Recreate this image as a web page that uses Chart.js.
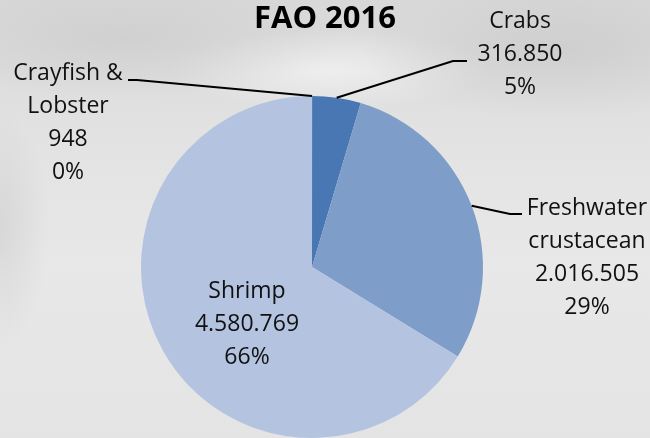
<!DOCTYPE html>
<html>
<head>
<meta charset="utf-8">
<script src="https://cdn.jsdelivr.net/npm/chart.js@4/dist/chart.umd.min.js"></script>
<style>
  html, body { margin: 0; padding: 0; }
  body {
    width: 650px; height: 438px; overflow: hidden;
    background:
      radial-gradient(ellipse 220px 60px at 120px 40px, rgba(195,195,195,0.45), rgba(195,195,195,0) 100%),
      radial-gradient(ellipse 200px 70px at 560px 50px, rgba(190,190,190,0.45), rgba(190,190,190,0) 100%),
      radial-gradient(ellipse 50px 120px at 0px 230px, rgba(180,180,180,0.3), rgba(180,180,180,0) 100%),
      radial-gradient(ellipse 160px 40px at 330px 70px, rgba(245,245,245,0.7), rgba(245,245,245,0) 100%),
      linear-gradient(180deg, #d8d8d8 0%, #e2e2e2 30%, #e8e8e8 60%, #e4e4e4 100%);
  }
  #wrap { position: relative; width: 650px; height: 438px; }
</style>
</head>
<body>
<div id="wrap"><canvas id="pie"></canvas></div>
<script>
  let categories = ['Crayfish & Lobster', 'Crabs', 'Freshwater crustacean', 'Shrimp'];
  let production = [948, 316850, 2016505, 4580769];
  let labelLines = [['Crayfish &', 'Lobster'], ['Crabs'], ['Freshwater', 'crustacean'], ['Shrimp']];
  let colors = ['#2f5a94', '#4877b3', '#7f9dc9', '#b4c4e0'];

  // where each label block sits (center x, first baseline) and its leader elbow
  let labelPos = [
    { x: 68, y: 80, elbow: [[137, 80], [128, 80]] },
    { x: 520, y: 28, elbow: [[453, 61], [467, 61]] },
    { x: 587, y: 215, elbow: [[510, 214], [522, 214]] },
    { x: 247, y: 298, elbow: null }
  ];

  function fmt(n) {
    return String(n).replace(/\B(?=(\d{3})+(?!\d))/g, '.');
  }

  let total = production.reduce((a, b) => a + b, 0);

  let labelPlugin = {
    id: 'pieLabels',
    afterDraw(chart) {
      let ctx = chart.ctx;
      let arcs = chart.getDatasetMeta(0).data;
      ctx.save();

      ctx.fillStyle = '#000';
      ctx.font = 'bold 31px "Open Sans"';
      ctx.textAlign = 'center';
      ctx.textBaseline = 'alphabetic';
      ctx.fillText('FAO 2016', 325, 28);

      ctx.font = '23px "Open Sans"';
      ctx.fillStyle = '#111';
      ctx.strokeStyle = '#000';
      ctx.lineWidth = 2;

      arcs.forEach((arc, i) => {
        let p = labelPos[i];
        if (p.elbow) {
          let mid = (arc.startAngle + arc.endAngle) / 2;
          let sx = arc.x + Math.cos(mid) * arc.outerRadius;
          let sy = arc.y + Math.sin(mid) * arc.outerRadius;
          ctx.beginPath();
          ctx.moveTo(sx, sy);
          p.elbow.forEach(pt => ctx.lineTo(pt[0], pt[1]));
          ctx.stroke();
        }
        let lines = labelLines[i].concat([fmt(production[i]), Math.round(production[i] / total * 100) + '%']);
        lines.forEach((t, k) => ctx.fillText(t, p.x, p.y + k * 33));
      });
      ctx.restore();
    }
  };

  new Chart(document.getElementById('pie'), {
    type: 'pie',
    data: {
      labels: categories,
      datasets: [{
        data: production,
        backgroundColor: colors,
        borderWidth: 0
      }]
    },
    options: {
      responsive: true,
      maintainAspectRatio: false,
      animation: false,
      layout: { padding: { left: 141, right: 167, top: 96, bottom: 0 } },
      plugins: {
        legend: { display: false },
        tooltip: { enabled: false },
        title: { display: false }
      }
    },
    plugins: [labelPlugin]
  });
</script>
</body>
</html>
